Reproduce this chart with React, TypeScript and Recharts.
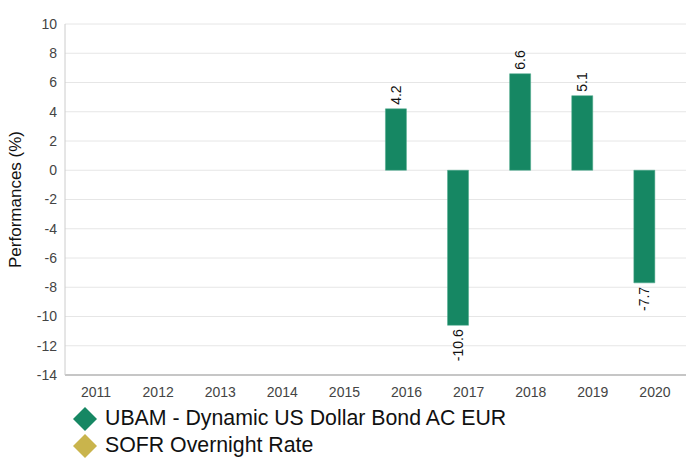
import { BarChart, Bar, XAxis, YAxis, CartesianGrid, Legend, LabelList } from 'recharts';

const years = ['2011', '2012', '2013', '2014', '2015', '2016', '2017', '2018', '2019', '2020'];
const fundValues: (number | null)[] = [null, null, null, null, null, 4.2, -10.6, 6.6, 5.1, -7.7];
const sofrValues: (number | null)[] = [null, null, null, null, null, null, null, null, null, null];
const yTicks = [10, 8, 6, 4, 2, 0, -2, -4, -6, -8, -10, -12, -14];

const GREEN = '#168763';
const GOLD = '#C9B44C';
const FONT = '"Liberation Sans", Arial, sans-serif';

const data = years.map((y, i) => ({ year: y, fund: fundValues[i], sofr: sofrValues[i] }));

const legendItems = [
  { label: 'UBAM - Dynamic US Dollar Bond AC EUR', color: GREEN },
  { label: 'SOFR Overnight Rate', color: GOLD },
];

function RotatedLabel(props: any) {
  const { x, y, width, height, value } = props;
  if (value == null) return null;
  const cx = x + width / 2;
  const neg = value < 0;
  const ty = neg ? Math.max(y, y + height) + 4 : Math.min(y, y + height) - 4;
  return (
    <text
      x={cx}
      y={ty}
      transform={`rotate(-90 ${cx} ${ty})`}
      textAnchor={neg ? 'end' : 'start'}
      dominantBaseline="central"
      fontSize={14}
      fill="#111"
      fontFamily={FONT}
    >
      {value}
    </text>
  );
}

function DiamondLegend() {
  return (
    <div style={{ fontFamily: FONT, fontSize: 21.3, color: '#111', lineHeight: '27px', paddingLeft: 73 }}>
      {legendItems.map((it) => (
        <div key={it.label} style={{ display: 'flex', alignItems: 'center' }}>
          <svg width={24} height={24} style={{ marginRight: 8 }}>
            <polygon points="12,0 24,12 12,24 0,12" fill={it.color} />
          </svg>
          <span>{it.label}</span>
        </div>
      ))}
    </div>
  );
}

export default function App() {
  return (
    <div style={{ position: 'absolute', left: 0, top: 0, width: 687, height: 458, background: '#fff' }}>
      <BarChart
        width={687}
        height={458}
        data={data}
        margin={{ top: 24, right: 1, bottom: 0, left: 0 }}
        barGap={0}
        barCategoryGap="16%"
      >
        <CartesianGrid vertical={false} stroke="#e6e6e6" />
        <XAxis
          dataKey="year"
          axisLine={{ stroke: '#999' }}
          tickLine={false}
          tick={{ fill: '#444', fontSize: 14, fontFamily: FONT }}
          height={30}
          tickMargin={6}
        />
        <YAxis
          domain={[-14, 10]}
          ticks={yTicks}
          interval={0}
          width={65}
          axisLine={{ stroke: '#ccc' }}
          tickLine={false}
          tick={{ fill: '#444', fontSize: 14, fontFamily: FONT }}
          label={{
            value: 'Performances (%)',
            angle: -90,
            position: 'insideLeft',
            offset: 15,
            style: { textAnchor: 'middle', fontSize: 17, fill: '#111', fontFamily: FONT },
          }}
        />
        <Legend verticalAlign="bottom" align="left" content={<DiamondLegend />} wrapperStyle={{ height: 53 }} />
        <Bar dataKey="fund" fill={GREEN} stroke="#4aa88a" strokeWidth={0.5} isAnimationActive={false}>
          <LabelList dataKey="fund" content={<RotatedLabel />} />
        </Bar>
        <Bar dataKey="sofr" fill={GOLD} isAnimationActive={false} />
      </BarChart>
    </div>
  );
}
